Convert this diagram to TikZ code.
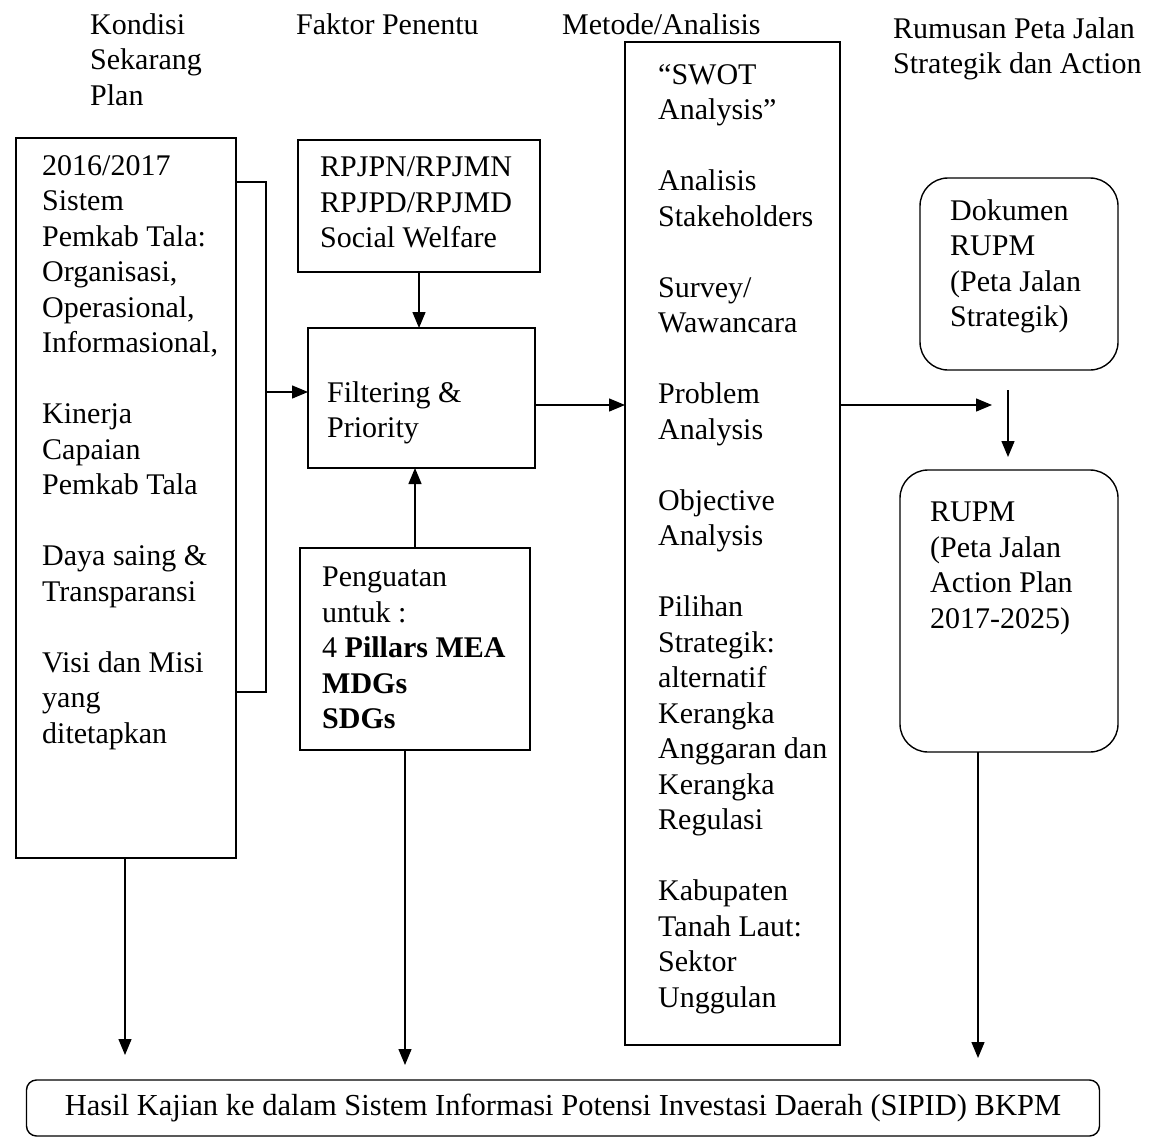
\documentclass[tikz,border=0pt]{standalone}
\usepackage{fontspec}
\setmainfont{Liberation Serif}
\usetikzlibrary{arrows.meta}
\begin{document}
\begin{tikzpicture}[x=1pt,y=-1pt,
  txt/.style={anchor=north west, inner sep=0pt, align=left, font=\fontsize{30}{35.5}\selectfont},
  box/.style={draw, line width=1.4pt, anchor=north west, inner sep=0pt, outer sep=0pt},
  rbox/.style={box, rounded corners=28pt},
  arr/.style={line width=1.4pt, -{Triangle[length=16pt,width=13pt]}},
  ln/.style={line width=1.4pt}]
\useasboundingbox[fill=white] (0,0) rectangle (1159,1137);

% headers
\node[txt] (h1) at (90,13) {Kondisi\\Sekarang\\Plan};
\node[txt] (h2) at (296,13) {Faktor Penentu};
\node[txt] (h3) at (562,13) {Metode/Analisis};
\node[txt] (h4) at (893,17) {Rumusan Peta Jalan\\Strategik dan Action};

% left box
\node[box, minimum width=220pt, minimum height=720pt] (cond) at (16,138) {};
\node[txt] (condt) at (42,155) {2016/2017\\Sistem\\Pemkab Tala:\\Organisasi,\\Operasional,\\Informasional,\\[35.5pt]Kinerja\\Capaian\\Pemkab Tala\\[35.5pt]Daya saing \&\\Transparansi\\[35.5pt]Visi dan Misi\\yang\\ditetapkan};

% factor boxes
\node[box, minimum width=242pt, minimum height=132pt] (rpj) at (298,140) {};
\node[txt] (rpjt) at (320,157) {RPJPN/RPJMN\\RPJPD/RPJMD\\Social Welfare};
\node[box, minimum width=227pt, minimum height=140pt] (filter) at (308,328) {};
\node[txt] (filtert) at (327,381) {Filtering \&\\Priority};
\node[box, minimum width=230pt, minimum height=202pt] (peng) at (300,548) {};
\node[txt] (pengt) at (322,567) {Penguatan\\untuk :\\4 \textbf{Pillars MEA}\\\textbf{MDGs}\\\textbf{SDGs}};

% method box
\node[box, minimum width=215pt, minimum height=1003pt] (metode) at (625,42) {};
\node[txt] (metodet) at (658,64) {``SWOT\\Analysis''\\[35.5pt]Analisis\\Stakeholders\\[35.5pt]Survey/\\Wawancara\\[35.5pt]Problem\\Analysis\\[35.5pt]Objective\\Analysis\\[35.5pt]Pilihan\\Strategik:\\alternatif\\Kerangka\\Anggaran dan\\Kerangka\\Regulasi\\[35.5pt]Kabupaten\\Tanah Laut:\\Sektor\\Unggulan};

% right boxes
\node[rbox, minimum width=198pt, minimum height=192pt] (dok) at (920,178) {};
\node[txt] (dokt) at (950,199) {Dokumen\\RUPM\\(Peta Jalan\\Strategik)};
\node[rbox, minimum width=218pt, minimum height=282pt] (rupm) at (900,470) {};
\node[txt] (rupmt) at (930,502) {RUPM\\(Peta Jalan\\Action Plan\\2017-2025)};

% bottom box
\node[draw, line width=1.4pt, rounded corners=10pt, minimum width=1073pt, minimum height=56pt, inner sep=0pt,
      font=\fontsize{30.5}{35.5}\selectfont] (hasil) at (563,1108) {Hasil Kajian ke dalam Sistem Informasi Potensi Investasi Daerah (SIPID) BKPM};

% bracket
\coordinate (bt) at (266,182);
\coordinate (bb) at (266,692);
\coordinate (ba) at (266,392);
\draw[ln] (bt -| cond.east) -- (bt) -- (bb) -- (bb -| cond.east);
\draw[arr] (ba) -- (ba -| filter.west);

% connectors
\draw[arr] (rpj.south) -- (rpj.south |- filter.north);
\draw[arr] (peng.north) -- (peng.north |- filter.south);
\draw[arr] ([yshift=-7pt]filter.east) -- ([yshift=-7pt]filter.east -| metode.west);
\coordinate (mr) at (992,405);
\draw[arr] (metode.east |- mr) -- (mr);
\coordinate (d1) at (1008,390);
\coordinate (d2) at (1008,457);
\draw[arr] (d1) -- (d2);

\coordinate (b1) at (125,1055);
\draw[arr] (cond.south -| b1) -- (b1);
\coordinate (b2) at (405,1065);
\draw[arr] (peng.south -| b2) -- (b2);
\coordinate (b3) at (978,1058);
\draw[arr] (rupm.south -| b3) -- (b3);
\end{tikzpicture}
\end{document}
